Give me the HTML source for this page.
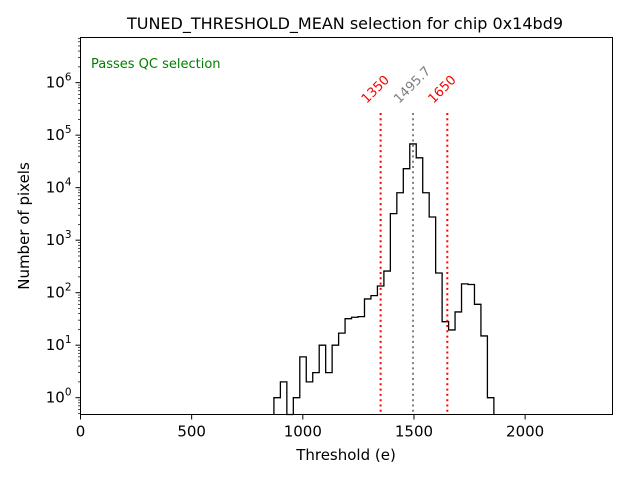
<!DOCTYPE html>
<html><head><meta charset="utf-8"><style>
body{margin:0;background:#fff;font-family:"DejaVu Sans","Liberation Sans",sans-serif;}
</style></head><body>
<svg id="chart" width="640" height="480" xmlns="http://www.w3.org/2000/svg">
<rect width="640" height="480" fill="#fff"/>
<text x="345" y="29" font-size="16" text-anchor="middle">TUNED_THRESHOLD_MEAN selection for chip 0x14bd9</text>
<text x="91" y="68" font-size="13" fill="green">Passes QC selection</text>
<text x="346" y="460" font-size="15" text-anchor="middle">Threshold (e)</text>
<text transform="translate(29,226) rotate(-90)" font-size="15" text-anchor="middle">Number of pixels</text>
<g id="marks"></g>
<rect x="80.5" y="37.5" width="532" height="377" fill="none" stroke="#000" stroke-width="1"/>
</svg>
<script>
const binStart = 870;
const binWidth = 29.1;
const counts = [1,2,0,1,6,2,3,10,3,10,17,32,34,35,76,88,134,258,3200,8000,23000,68000,37000,8000,2760,237,28,19.5,43,147,143,60,15,1];
const xTicks = [0,500,1000,1500,2000];
const yTickExps = [0,1,2,3,4,5,6];
const cutLines = [1350,1495.7,1650];
const cutLabels = ["1350","1495.7","1650"];
const cutColors = ["red","gray","red"];

const X0=80.5,X1=612.5,Y0=414.5,Y1=37.5;
const xMin=0,xMax=2393,lMin=-0.32,lMax=6.86;
function xs(v){return X0+(v-xMin)/(xMax-xMin)*(X1-X0);}
function ys(v){const l=Math.log10(Math.max(v,1e-9));return Y0-(Math.max(l,lMin)-lMin)/(lMax-lMin)*(Y0-Y1);}
const NS="http://www.w3.org/2000/svg";
const g=document.getElementById('marks');
function mk(t,a){const e=document.createElementNS(NS,t);for(const k in a)e.setAttribute(k,a[k]);g.appendChild(e);return e;}

let d="M"+xs(binStart)+","+Y0;
counts.forEach((c,i)=>{
  const xa=xs(binStart+i*binWidth),xb=xs(binStart+(i+1)*binWidth);
  const y=c>0?ys(c):Y0;
  d+=" L"+xa+","+y+" L"+xb+","+y;
});
d+=" L"+xs(binStart+counts.length*binWidth)+","+Y0;
const hp=mk('path',{d:d,fill:"none",stroke:"#000","stroke-width":1.3});



cutLines.forEach((v,i)=>{
  const x=xs(v);
  const ln=mk('line',{x1:x,x2:x,y1:113,y2:Y0,stroke:cutColors[i],"stroke-width":2,"stroke-dasharray":"2,3.3"});
  
  
  const t=mk('text',{x:x-14,y:104,"font-size":13,fill:cutColors[i],transform:"rotate(-45 "+(x-14)+" 104)"});
  t.textContent=cutLabels[i];
  
  
});

xTicks.forEach(v=>{
  const x=xs(v);
  const tk=mk('line',{x1:x,x2:x,y1:Y0,y2:Y0+5,stroke:"#000"});
  
  
  const t=mk('text',{x:x,y:Y0+22,"font-size":15,"text-anchor":"middle"});
  t.textContent=v;
  
  
});
for(let e=-1;e<=7;e++){
  for(let m=1;m<10;m++){
    const v=m*Math.pow(10,e);const l=Math.log10(v);
    if(l<lMin||l>lMax)continue;
    const y=ys(v);
    const tk=mk('line',{x1:X0,x2:X0-(m===1?5:2.5),y1:y,y2:y,stroke:"#000","stroke-width":m===1?1:0.7});
    
    
  }
}
yTickExps.forEach(e=>{
  const y=ys(Math.pow(10,e));
  const t=mk('text',{x:X0-9,y:y+5,"font-size":15,"text-anchor":"end"});
  t.innerHTML='10<tspan dy="-7" font-size="10.5">'+e+'</tspan>';
  
  
});
</script>
</body></html>
